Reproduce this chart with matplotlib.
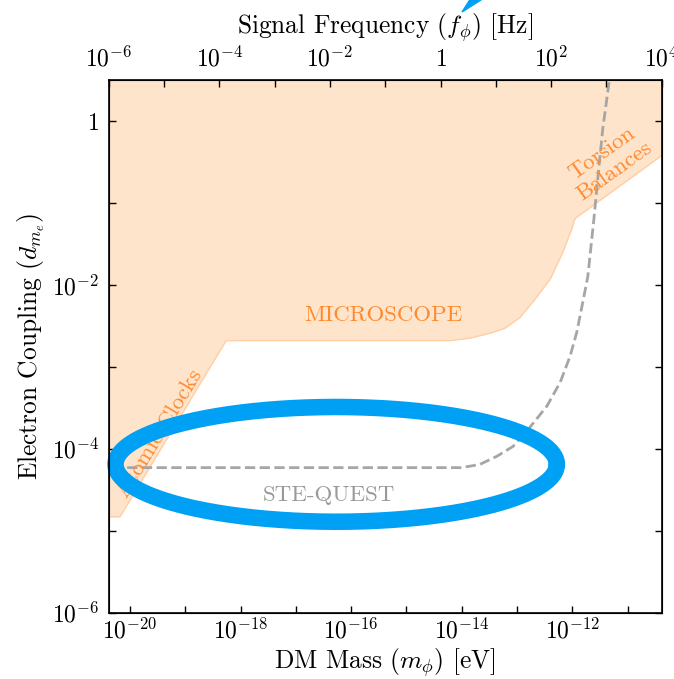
import numpy as np
import matplotlib
matplotlib.use("Agg")
import matplotlib.pyplot as plt
from matplotlib.ticker import NullLocator, FixedLocator, FixedFormatter
from matplotlib.patches import Polygon

plt.rcParams.update({
    "font.family": "serif",
    "font.serif": ["cmr10"],
    "mathtext.fontset": "cm",
    "axes.formatter.use_mathtext": True,
    "font.size": 17,
})

HZ_PER_EV = 2.418e14

# Combined existing exclusion boundary (Atomic Clocks / MICROSCOPE / Torsion Balances)
excl_logm = [-20.54, -20.18, -18.26, -14.21, -13.85, -13.49, -13.22, -12.95,
             -12.68, -12.40, -12.19, -12.01, -11.95, -10.38, -10.20]
excl_logd = [-4.83, -4.83, -2.68, -2.68, -2.65, -2.59, -2.53, -2.40,
             -2.18, -1.93, -1.63, -1.32, -1.19, -0.42, -0.33]

# STE-QUEST projected sensitivity
ste_logm = [-20.05, -14.00, -13.67, -13.36, -13.07, -12.77, -12.46, -12.22,
            -12.04, -11.92, -11.81, -11.72, -11.61, -11.54, -11.45, -11.34, -11.32]
ste_logd = [-4.23, -4.23, -4.19, -4.09, -3.97, -3.74, -3.48, -3.19,
            -2.87, -2.58, -2.21, -1.90, -1.20, -0.71, -0.10, 0.45, 0.60]

# highlight ellipse (log10 decades)
ell_center_logm, ell_center_logd = -16.27, -4.19
ell_semi_logm, ell_semi_logd = 3.99, 0.70

xticks_exp = list(range(-20, -10))
xlabel_exp = [-20, -18, -16, -14, -12]
yticks_exp = list(range(-6, 1))
ylabel_exp = [-6, -4, -2, 0]
ftick_exp = list(range(-6, 5))
flabel_exp = [-6, -4, -2, 0, 2, 4]

fill_c = "#FFE4CC"
edge_c = "#FFCFA6"
txt_c = "#FF8A2E"
gray_c = "#A6A6A6"
blue_c = "#00A0F5"

TICK_FS = 17
LABEL_FS = 18.3
ANN_FS = 16.5


def lab(e):
    return r"$1$" if e == 0 else r"$10^{%d}$" % e


fig = plt.figure(figsize=(6.74, 6.79), dpi=100)
ax = fig.add_axes([108.7 / 674, (679 - 612.7) / 679, 553 / 674, 532.7 / 679])
ax.set_xscale("log")
ax.set_yscale("log")
xlim = (1e-6 / HZ_PER_EV, 1e4 / HZ_PER_EV)
ax.set_xlim(xlim)
ax.set_ylim(1e-6, 10 ** 0.5)

m = 10.0 ** np.array(excl_logm)
d = 10.0 ** np.array(excl_logd)
ax.fill_between(m, d, 10.0, color=fill_c, lw=0, zorder=1)
ax.plot(m, d, color=edge_c, lw=1.0, zorder=1.5)

ax.plot(10.0 ** np.array(ste_logm), 10.0 ** np.array(ste_logd), ls="--",
        color=gray_c, lw=2.0, zorder=3)

t = np.linspace(0, 2 * np.pi, 400)
ax.plot(10 ** (ell_center_logm + ell_semi_logm * np.cos(t)),
        10 ** (ell_center_logd + ell_semi_logd * np.sin(t)),
        color=blue_c, lw=11.9, zorder=6, clip_on=False, solid_capstyle="round")

ax.text(10 ** -15.41, 10 ** -2.37, "MICROSCOPE", color=txt_c, ha="center",
        va="center", fontsize=ANN_FS, zorder=4)
ax.text(10 ** -16.40, 10 ** -4.57, "STE-QUEST", color="#999999", ha="center",
        va="center", fontsize=ANN_FS, zorder=4)
ax.text(10 ** -19.46, 10 ** -3.81, "Atomic Clocks", color=txt_c, ha="center",
        va="center", fontsize=ANN_FS, rotation=58.8, rotation_mode="anchor", zorder=4)
ax.text(10 ** -11.36, 10 ** -0.50, "Torsion\nBalances", color=txt_c, ha="center",
        va="center", fontsize=ANN_FS, rotation=35.5, rotation_mode="anchor",
        multialignment="center", linespacing=1.15, zorder=4)

ax.xaxis.set_major_locator(FixedLocator([10.0 ** e for e in xticks_exp]))
ax.xaxis.set_major_formatter(FixedFormatter([lab(e) if e in xlabel_exp else "" for e in xticks_exp]))
ax.xaxis.set_minor_locator(NullLocator())
ax.yaxis.set_major_locator(FixedLocator([10.0 ** e for e in yticks_exp]))
ax.yaxis.set_major_formatter(FixedFormatter([lab(e) if e in ylabel_exp else "" for e in yticks_exp]))
ax.yaxis.set_minor_locator(NullLocator())
ax.tick_params(which="both", direction="in", length=5, width=1.0, right=True,
               top=False, labelsize=TICK_FS)
ax.tick_params(axis="y", pad=7)
ax.tick_params(axis="x", pad=4)
for s in ax.spines.values():
    s.set_linewidth(1.2)
    s.set_zorder(7)

ax2 = ax.twiny()
ax2.set_xscale("log")
ax2.set_xlim(xlim[0] * HZ_PER_EV, xlim[1] * HZ_PER_EV)
ax2.xaxis.set_major_locator(FixedLocator([10.0 ** e for e in ftick_exp]))
ax2.xaxis.set_major_formatter(FixedFormatter([lab(e) if e in flabel_exp else "" for e in ftick_exp]))
ax2.xaxis.set_minor_locator(NullLocator())
ax2.tick_params(which="both", direction="in", length=5, width=1.0,
                labelsize=TICK_FS, pad=6.5)
ax2.set_xlabel(r"Signal Frequency ($f_\phi$) [Hz]", fontsize=LABEL_FS, labelpad=9)

ax.set_xlabel(r"DM Mass ($m_\phi$) [eV]", fontsize=LABEL_FS, labelpad=2)
ax.set_ylabel(r"Electron Coupling ($d_{m_e}$)", fontsize=LABEL_FS, labelpad=3)

# partially visible pointer at the top
arrow_px = [(462, 12), (471, -2), (484, -2)]
fig.patches.append(Polygon([(x / 674, 1 - y / 679) for x, y in arrow_px], closed=True,
                           transform=fig.transFigure, color=blue_c, clip_on=False))

fig.savefig("out.png", dpi=100)
